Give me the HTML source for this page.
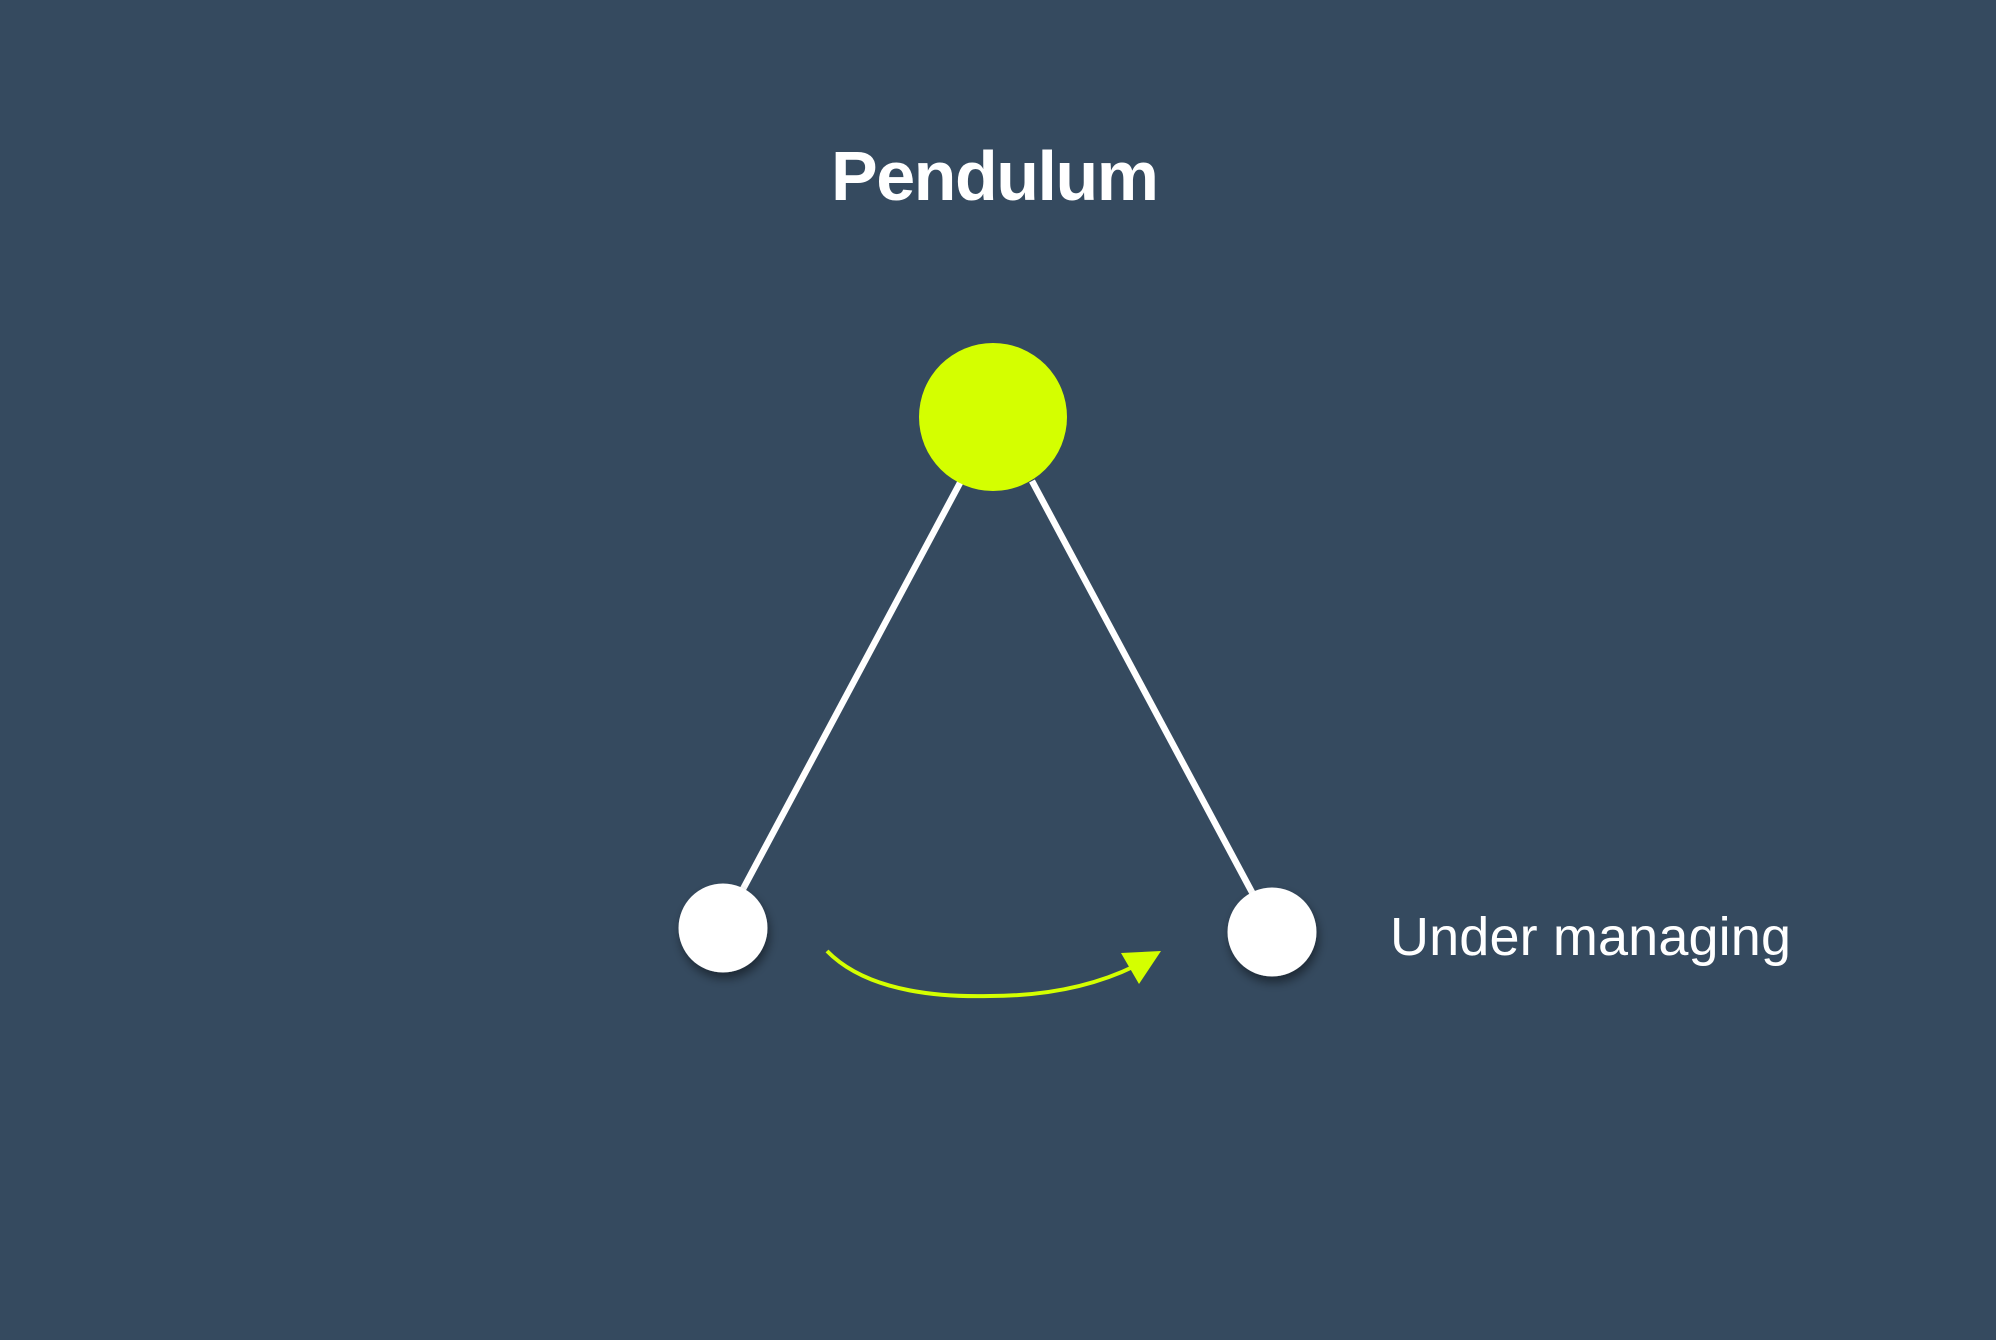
<!DOCTYPE html>
<html><head><meta charset="utf-8"><style>
html,body{margin:0;padding:0;background:#354a5f;}
svg{display:block}
</style></head><body>
<svg width="1996" height="1340" viewBox="0 0 1996 1340" xmlns="http://www.w3.org/2000/svg">
<defs>
<filter id="sh" x="-50%" y="-50%" width="200%" height="200%">
<feDropShadow dx="2" dy="6" stdDeviation="5" flood-color="#000" flood-opacity="0.45"/>
</filter>
</defs>
<rect width="1996" height="1340" fill="#354a5f"/>
<text x="995" y="200" text-anchor="middle" font-family="Liberation Sans, sans-serif" font-weight="bold" font-size="70" fill="#fff" textLength="328">Pendulum</text>
<line x1="961" y1="481" x2="743" y2="889" stroke="#fff" stroke-width="6.5"/>
<line x1="1032" y1="481" x2="1254" y2="896" stroke="#fff" stroke-width="6.5"/>
<circle cx="993" cy="417" r="74" fill="#d4ff00"/>
<circle cx="723" cy="928" r="44.5" fill="#fff" filter="url(#sh)"/>
<circle cx="1272" cy="932" r="44.5" fill="#fff" filter="url(#sh)"/>
<path d="M827 951 C870 995 950 997 990 996 C1040 996 1090 988 1135 966" fill="none" stroke="#d4ff00" stroke-width="4"/>
<polygon points="1161,951 1121,953 1139,984" fill="#d4ff00"/>
<text x="1390" y="955" font-family="Liberation Sans, sans-serif" font-size="54" fill="#fff" textLength="401">Under managing</text>
</svg>
</body></html>
